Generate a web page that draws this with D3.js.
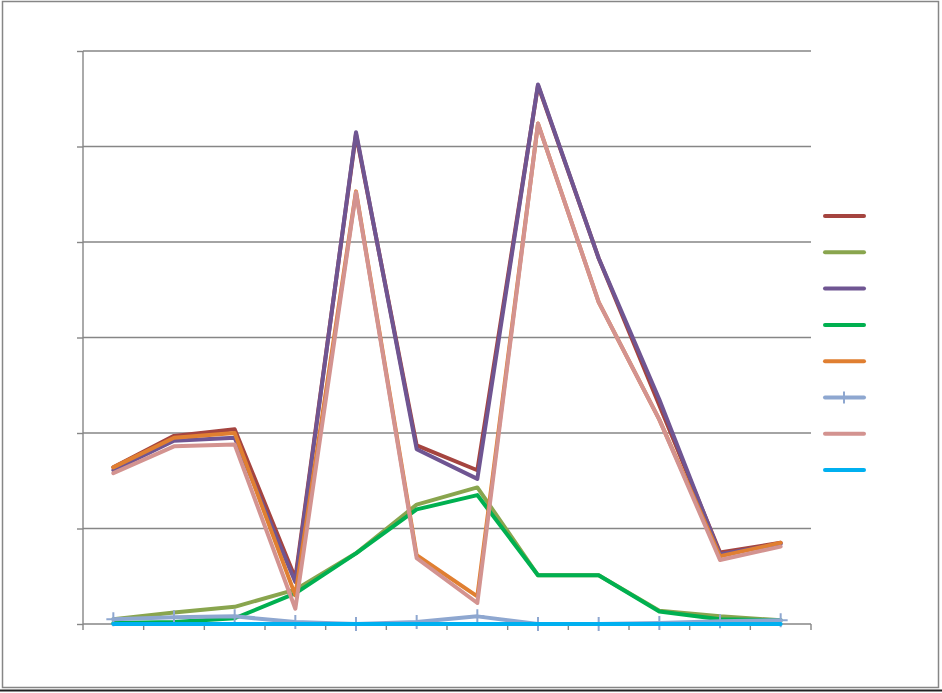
<!DOCTYPE html>
<html><head><meta charset="utf-8">
<script src="https://cdn.jsdelivr.net/npm/d3@7/dist/d3.min.js"></script>
<style>html,body{margin:0;padding:0;background:#fff}svg{display:block}</style>
</head><body>
<svg id="c" width="942" height="693"></svg>
<script>
const categories = [1,2,3,4,5,6,7,8,9,10,11,12];
const yTicks = [0,10,20,30,40,50,60];
const s1 = [16.4,19.7,20.4,4.8,51.3,18.7,16.1,56.4,38.3,22.9,7.5,8.5];
const s2 = [0.5,1.2,1.8,3.6,7.4,12.5,14.3,5.1,5.1,1.4,0.8,0.4];
const s3 = [16.1,19.2,19.5,4.4,51.5,18.3,15.2,56.5,38.3,23.5,7.3,8.4];
const s4 = [0.1,0.2,0.6,3.2,7.4,12.0,13.5,5.1,5.1,1.3,0.5,0.4];
const s5 = [16.4,19.5,20.0,3.0,45.3,7.2,2.9,52.4,33.7,21.4,7.1,8.5];
const s6 = [0.5,0.7,0.8,0.2,0,0.2,0.8,0,0,0.1,0.3,0.4];
const s7 = [15.8,18.6,18.8,1.6,45.2,6.9,2.2,52.4,33.7,21.4,6.7,8.1];
const s8 = [0,0,0,0,0,0,0,0,0,0,0,0];
const seriesValues = [s1,s2,s3,s4,s5,s6,s7,s8];
const colors = ["#A5443F","#89A54E","#6F5592","#00B050","#E07F31","#8EA7D0","#D39390","#00B0F0"];

const svg = d3.select("#c");
const L=83, R=811, T=51, B=624;
const x = d3.scaleBand().domain(categories).range([L,R]);
const y = d3.scaleLinear().domain([0,60]).range([B,T]);
const grey="#868686";

svg.append("rect").attr("x",2.5).attr("y",1.5).attr("width",936).attr("height",686)
  .attr("fill","#fff").attr("stroke",grey).attr("stroke-width",1.5);
svg.append("line").attr("x1",0).attr("x2",942).attr("y1",690.5).attr("y2",690.5).attr("stroke","#222").attr("stroke-width",2);

// gridlines
svg.append("g").selectAll("line").data(yTicks.slice(1)).join("line")
  .attr("x1",L).attr("x2",R).attr("y1",d=>y(d)).attr("y2",d=>y(d))
  .attr("stroke",grey).attr("stroke-width",1.4);

// y axis
const ya = svg.append("g").attr("transform",`translate(${L},0)`)
  .call(d3.axisLeft(y).tickValues(yTicks).tickSize(6).tickFormat(""));
ya.selectAll("path,line").attr("stroke",grey).attr("stroke-width",1.4);
ya.select(".domain").attr("d",`M-0,${T}V${B}`);

// x axis with ticks between categories
const xt = d3.range(13).map(i=>L+i*x.step());
const xa = svg.append("g");
xa.append("line").attr("x1",L).attr("x2",R).attr("y1",B).attr("y2",B).attr("stroke",grey).attr("stroke-width",1.4);
xa.selectAll("line.t").data(xt).join("line").attr("class","t")
  .attr("x1",d=>d).attr("x2",d=>d).attr("y1",B).attr("y2",B+6).attr("stroke",grey).attr("stroke-width",1.4);

const line = d3.line().x((d,i)=>x(categories[i])+x.bandwidth()/2).y(d=>y(d));
seriesValues.forEach((vals,si)=>{
  svg.append("path").datum(vals).attr("d",line).attr("fill","none")
    .attr("stroke",colors[si]).attr("stroke-width",4).attr("stroke-linejoin","round").attr("stroke-linecap","round");
  if(si===5){
    const g=svg.append("g");
    vals.forEach((v,i)=>{
      const cx=x(categories[i])+x.bandwidth()/2, cy=y(v);
      g.append("path").attr("d",`M${cx},${cy-7}V${cy+7}M${cx-7},${cy}H${cx+7}`)
        .attr("stroke",colors[si]).attr("stroke-width",2);
    });
  }
});

// legend
const lg = svg.append("g");
colors.forEach((c,i)=>{
  const ly = 216 + i*36.3;
  lg.append("line").attr("x1",825).attr("x2",864).attr("y1",ly).attr("y2",ly)
    .attr("stroke",c).attr("stroke-width",4).attr("stroke-linecap","round");
  if(i===5){
    lg.append("line").attr("x1",844).attr("x2",844).attr("y1",ly-6).attr("y2",ly+6)
      .attr("stroke",c).attr("stroke-width",2);
  }
});
</script>
</body></html>
